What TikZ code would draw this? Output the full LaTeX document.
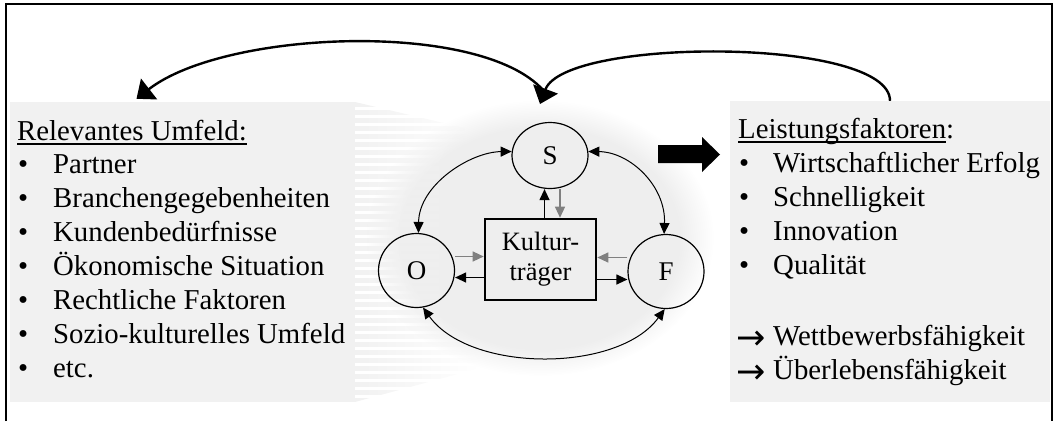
\documentclass[tikz,border=0pt]{standalone}
\usepackage{fontspec}
\setmainfont{Liberation Serif}
\newfontfamily\arrowfont{DejaVu Sans}
\usetikzlibrary{arrows.meta,shapes.geometric,fadings}
\definecolor{boxgray}{RGB}{241,241,241}
\definecolor{glowgray}{RGB}{238,238,238}
\definecolor{tipgray}{RGB}{128,128,128}
% underline set just below the baseline, through the descenders
\newcommand\hdrline[1]{\setbox0\hbox{#1}\rlap{\rule[-4.5pt]{\wd0}{1.3pt}}\box0}
\begin{document}
\begin{tikzpicture}[x=1pt,y=-1pt,
  listtext/.style={anchor=base west, inner sep=0pt, font=\fontsize{28.8}{34}\selectfont},
  arrowtext/.style={anchor=base west, inner sep=0pt, font=\arrowfont\fontsize{35}{34}\selectfont},
  pole/.style={draw, ellipse, line width=1.2pt, inner sep=0pt, minimum width=76pt, font=\fontsize{27}{30}\selectfont},
  carrier/.style={draw, line width=2.6pt, minimum width=111pt, minimum height=81pt, inner sep=0pt, align=center, font=\fontsize{26.5}{30}\selectfont},
  link/.style={line width=1pt, {Triangle[length=11pt,width=10pt]}-{Triangle[length=11pt,width=10pt]}},
  flow/.style={line width=1.2pt, -{Triangle[length=11pt,width=10pt]}},
  grayflow/.style={flow, color=tipgray},
  loop/.style={line width=2.4pt, -{Triangle[length=16pt,width=26pt]}},
  panel/.style={fill=boxgray, inner sep=0pt}]
\useasboundingbox (0,0) rectangle (1056,421);

% frame, open at the bottom
\draw[line width=1.8pt] (6,421) -- (6,4) -- (1052,4) -- (1052,421);

% grey panels
\node[panel, minimum width=345pt, minimum height=300pt] (L) at (182.5,252) {};
\node[panel, minimum width=320pt, minimum height=301pt] (R) at (890,251.5) {};

% soft halo behind the culture model
\fill[glowgray, path fading=circle with fuzzy edge 20 percent] (540,238) ellipse [x radius=174pt, y radius=138pt];

% striped transition from the left panel
\begin{scope}
  \clip (355,102) -- (465,128) -- (480,368) -- (355,402) -- cycle;
  \foreach \y in {102,110,...,398}
    \fill[boxgray, path fading=east] (355,\y) rectangle (480,\y+5);
\end{scope}

% left list
\node[listtext] (lh) at (17,140) {\hdrline{Relevantes Umfeld:}};
\foreach \t [count=\i] in {Partner,Branchengegebenheiten,Kundenbedürfnisse,Ökonomische Situation,Rechtliche Faktoren,Sozio-kulturelles Umfeld,etc.}{
  \node[listtext] (lb\i) at (18,{139+34*\i}) {•};
  \node[listtext] (lt\i) at (53,{139+34*\i}) {\t};
}

% right list
\node[listtext] (rh) at (738,138) {\hdrline{Leistungsfaktoren}:};
\foreach \t [count=\i] in {Wirtschaftlicher Erfolg,Schnelligkeit,Innovation,Qualität}{
  \node[listtext] (rb\i) at (739,{138+34*\i}) {•};
  \node[listtext] (rt\i) at (773,{138+34*\i}) {\t};
}
\node[arrowtext] (ra1) at (736,349) {→};
\node[listtext] (rc1) at (773,345) {Wettbewerbsfähigkeit};
\node[arrowtext] (ra2) at (736,383) {→};
\node[listtext] (rc2) at (773,379) {Überlebensfähigkeit};

% culture model
\node[pole, minimum height=66pt] (S) at (550,155.5) {S};
\node[pole, minimum height=74pt] (O) at (416.5,270.5) {O};
\node[pole, minimum height=74pt] (F) at (666,271.5) {F};
\node[carrier] (K) at (540.5,259.5) {Kultur-\\träger};

\draw[flow] ([xshift=4pt]K.north) -- ([xshift=4pt]K.north |- S.south);
\draw[grayflow] ([xshift=10pt]S.south) -- ([xshift=10pt]S.south |- K.north);
\draw[grayflow] ([yshift=3pt]K.west -| O.east) -- ([yshift=3pt]K.west);
\draw[flow] ([yshift=-18pt]K.west) -- ([yshift=-18pt]K.west -| O.east);
\draw[grayflow] ([yshift=2pt]K.east -| F.west) -- ([yshift=2pt]K.east);
\draw[flow] ([yshift=-20pt]K.east) -- ([yshift=-20pt]K.east -| F.west);

\draw[link] (S.174) .. controls (470,152) and (419,185) .. (O.87);
\draw[link] (S.6) .. controls (630,152) and (666,186) .. (F.93);
\draw[link] (O.-80) .. controls (470,373) and (618,373) .. (F.-92);

% block arrow towards the performance factors
\fill (658,145) -- (702,145) -- (702,137) -- (720,154.5) -- (702,172) -- (702,163) -- (658,163) -- cycle;

% feedback loops above the model
\coordinate (hubtip) at (540,104);
\coordinate (hub) at (543,90);
\draw[loop] (R.north) .. controls (890,37) and (565,37) .. (hubtip);
\draw[loop] (hub) .. controls (480,20) and (225,30) .. ([xshift=-46pt,yshift=3pt]L.north);
\end{tikzpicture}
\end{document}
